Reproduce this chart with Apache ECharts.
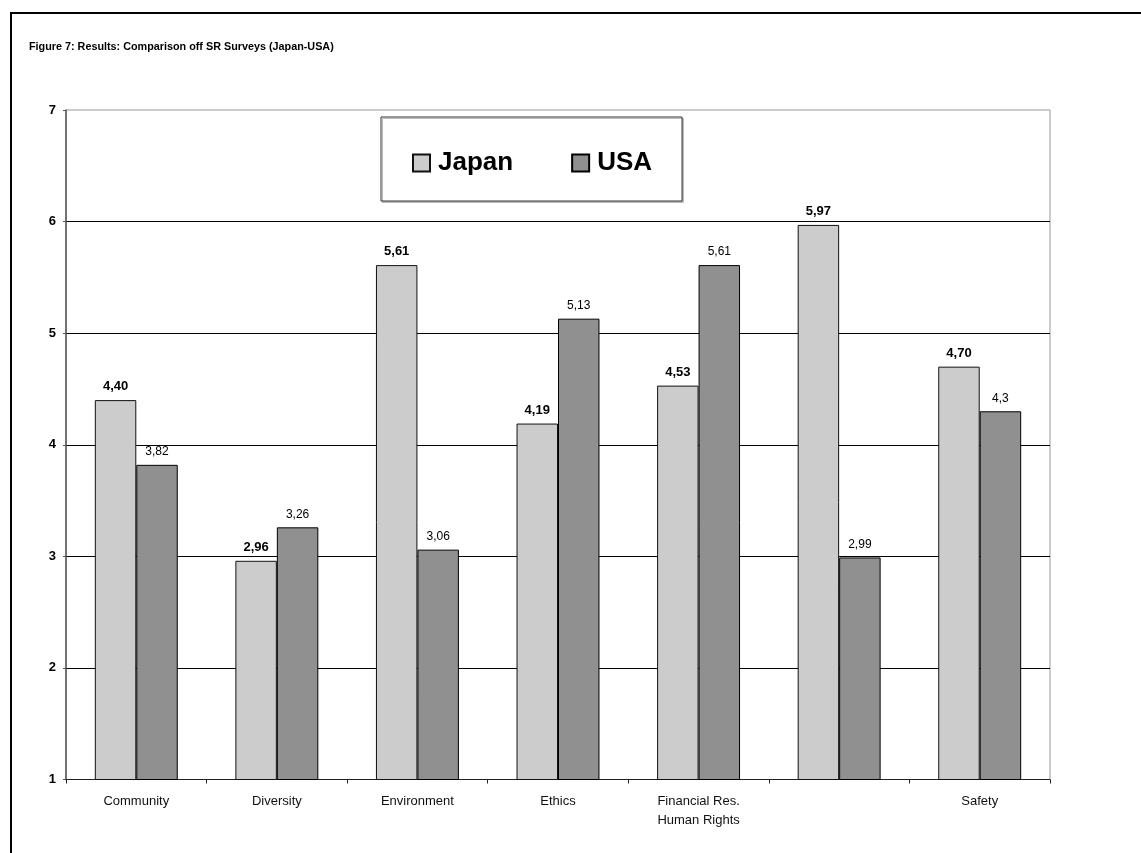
<!DOCTYPE html>
<html>
<head>
<meta charset="utf-8">
<script src="https://cdn.jsdelivr.net/npm/echarts@6/dist/echarts.min.js"></script>
<style>
html,body{margin:0;padding:0;background:#fff;}
#c{width:1141px;height:853px;}
</style>
</head>
<body>
<div id="c"></div>
<script>
var categories = ['Community', 'Diversity', 'Environment', 'Ethics', 'Financial Res.\nHuman Rights', '', 'Safety'];
var japanValues = [4.40, 2.96, 5.61, 4.19, 4.53, 5.97, 4.70];
var usaValues = [3.82, 3.26, 3.06, 5.13, 5.61, 2.99, 4.3];
var yTicks = [1, 2, 3, 4, 5, 6, 7];

var FONT = '"Liberation Sans", Arial, sans-serif';
var chart = echarts.init(document.getElementById('c'));
chart.setOption({
  backgroundColor: '#fff',
  animation: false,
  title: {
    text: 'Figure 7: Results: Comparison off SR Surveys (Japan-USA)',
    left: 24, top: 37,
    textStyle: { fontFamily: FONT, fontSize: 10.8, fontWeight: 'bold', color: '#000' }
  },
  graphic: [{
    type: 'rect',
    shape: { x: 11, y: 13, width: 1300, height: 1000 },
    style: { fill: null, stroke: '#000', lineWidth: 2 },
    silent: true
  }],
  legend: {
    left: 381, top: 117,
    padding: [33, 30, 25, 31],
    backgroundColor: '#fff',
    borderColor: '#333', borderWidth: 1,
    shadowColor: '#bbb', shadowOffsetX: 1.5, shadowOffsetY: 1.5, shadowBlur: 0,
    itemWidth: 17, itemHeight: 17, itemGap: 58,
    icon: 'rect',
    textStyle: { fontFamily: FONT, fontSize: 26, fontWeight: 'bold', color: '#000', padding: [0, 0, 0, 3] },
    data: ['Japan', 'USA']
  },
  grid: {
    left: 66, right: 91, top: 110, bottom: 73.5,
    show: true, borderColor: '#999', borderWidth: 1, backgroundColor: '#fff'
  },
  xAxis: {
    type: 'category',
    data: categories,
    axisLine: { lineStyle: { color: '#222', width: 1 } },
    axisTick: { show: true, length: 4, lineStyle: { color: '#222' } },
    axisLabel: { fontFamily: FONT, fontSize: 13, color: '#111', margin: 12, lineHeight: 19, interval: 0 },
    splitLine: { show: false }
  },
  yAxis: {
    type: 'value',
    min: yTicks[0], max: yTicks[yTicks.length - 1], interval: 1,
    axisLine: { show: true, lineStyle: { color: '#555', width: 1.5 } },
    axisTick: { show: true, length: 3, lineStyle: { color: '#555' } },
    axisLabel: { fontFamily: FONT, fontSize: 13, fontWeight: 'bold', color: '#000', margin: 10 },
    splitLine: { show: true, showMaxLine: false, showMinLine: false, lineStyle: { color: '#000', width: 1 } }
  },
  series: [{
    name: 'Japan',
    type: 'bar',
    data: japanValues,
    barGap: '0%',
    barCategoryGap: '41%',
    itemStyle: { color: '#cccccc', borderColor: '#111', borderWidth: 1 },
    label: {
      show: true, position: 'top', distance: 7,
      fontFamily: FONT, fontSize: 13, fontWeight: 'bold', color: '#000',
      formatter: function (p) { return p.value.toFixed(2).replace('.', ','); }
    }
  }, {
    name: 'USA',
    type: 'bar',
    data: usaValues,
    barGap: '0%',
    barCategoryGap: '41%',
    itemStyle: { color: '#909090', borderColor: '#000', borderWidth: 1 },
    label: {
      show: true, position: 'top', distance: 7,
      fontFamily: FONT, fontSize: 12, color: '#000',
      formatter: function (p) { return String(p.value).replace('.', ','); }
    }
  }]
});
</script>
</body>
</html>
